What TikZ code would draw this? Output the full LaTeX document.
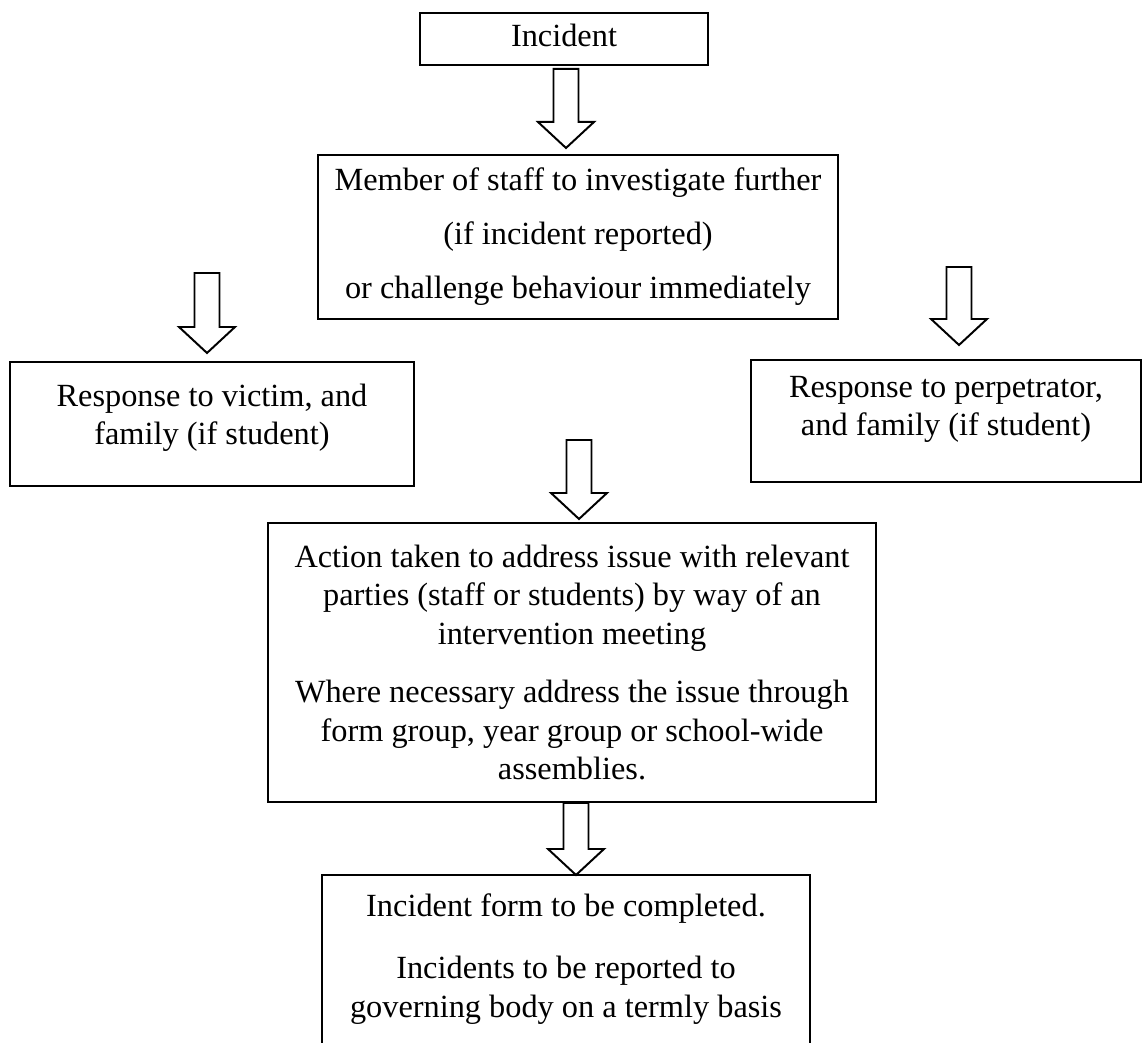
\documentclass[tikz,border=0pt]{standalone}
\usepackage{fontspec}
\setmainfont{Liberation Serif}
\usetikzlibrary{calc}

\newcommand{\padbelow}[1]{\rule[-#1]{0pt}{0pt}}

\begin{document}
\begin{tikzpicture}[
  flowbox/.style={draw=cline,rectangle,align=center,inner sep=0pt,font=\fontsize{23pt}{27.4pt}\selectfont},
  thickbox/.style={flowbox,line width=1.9pt},
  thinbox/.style={flowbox,line width=0.85pt},
  blockarrow/.style={draw=cline,fill=white,line width=1.4pt,line join=miter}]
	\definecolor{cline}{rgb}{0.0,0.0,0.0}
	%
	\useasboundingbox (0,0) rectangle (28.575,26.075);
	%
	\node[thickbox,minimum width=7.2cm,minimum height=1.3cm] (incident) at (14.1,25.1) {Incident\padbelow{0.2cm}};
	\node[thickbox,minimum width=13cm,minimum height=4.1cm,font=\fontsize{23pt}{38.4pt}\selectfont] (member) at (14.45,20.15) {Member of staff to investigate further\\(if incident reported)\\or challenge behaviour immediately};
	\node[thickbox,minimum width=10.1cm,minimum height=3.1cm] (victim) at (5.3,15.475) {Response to victim, and\\family (if student)\padbelow{0.475cm}};
	\node[thinbox,minimum width=9.75cm,minimum height=3.05cm] (perpetrator) at (23.65,15.55) {Response to perpetrator,\\and family (if student)\padbelow{0.75cm}};
	\node[thinbox,minimum width=15.2cm,minimum height=6.975cm] (action) at (14.3,9.5125) {Action taken to address issue with relevant\\parties (staff or students) by way of an\\intervention meeting\\[0.49cm]Where necessary address the issue through\\form group, year group or school-wide\\assemblies.};
	\node[thinbox,minimum width=12.2cm,minimum height=4.625cm] (form) at (14.15,1.8875) {Incident form to be completed.\\[0.59cm]Incidents to be reported to\\governing body on a termly basis\padbelow{0.6cm}};
	%
	\coordinate (a1s) at (14.15,24.35);  \coordinate (a1t) at (14.15,22.375);
	\coordinate (a2s) at (5.175,19.25);  \coordinate (a2t) at (5.175,17.25);
	\coordinate (a3s) at (23.975,19.4);  \coordinate (a3t) at (23.975,17.45);
	\coordinate (a4s) at (14.475,15.075); \coordinate (a4t) at (14.475,13.1);
	\coordinate (a5s) at (14.4,6.0);     \coordinate (a5t) at (14.4,4.2);
	%
	\foreach \s/\t in {a1s/a1t,a2s/a2t,a3s/a3t,a4s/a4t,a5s/a5t}
		\draw[blockarrow] ($(\s)+(-0.3125,0)$) -- ($(\t)+(-0.3125,0.65)$) -- ($(\t)+(-0.7,0.65)$) -- (\t)
			-- ($(\t)+(0.7,0.65)$) -- ($(\t)+(0.3125,0.65)$) -- ($(\s)+(0.3125,0)$) -- cycle;
	%
\end{tikzpicture}
\end{document}
